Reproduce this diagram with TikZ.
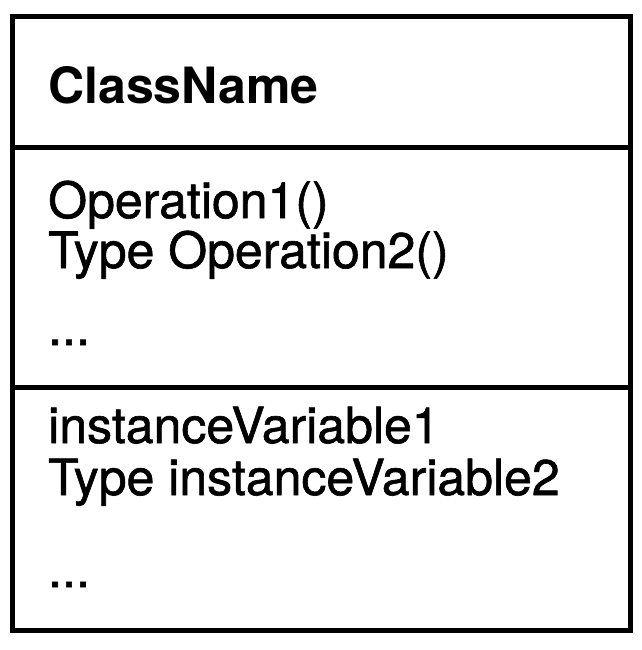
\documentclass[tikz,border=0pt]{standalone}
\usepackage{fontspec}
\setmainfont{TeX Gyre Heros}
\newfontfamily\scanfont[FakeBold=1.2]{TeX Gyre Heros}
\usepackage{tikz}
\usetikzlibrary{positioning}

\tikzset{
  entry/.style={anchor=base west, inner sep=0pt, font=\fontsize{50}{60}\selectfont\scanfont},
  frame/.style={line width=5pt}
}

\begin{document}
\begin{tikzpicture}[x=1pt,y=-1pt]
 \useasboundingbox (0,0) rectangle (641,650);

 % class box and its compartments
 \draw[frame] (12,17) rectangle (630,630);
 \foreach \y in {147,387}{
   \draw[frame] (12,\y) -- (630,\y);
 }

 % name
 \node[entry, font=\fontsize{50}{60}\selectfont\bfseries] (classname) at (48,103) {ClassName};

 % operations
 \node[entry] (op1) at (48,218) {Operation1()};
 \node[entry] (op2) at (48,268) {Type Operation2()};
 \node[entry] (opdots) at (48,345) {.{}.{}.};

 % instance variables
 \node[entry] (var1) at (48,443) {instanceVariable1};
 \node[entry] (var2) at (48,495) {Type instanceVariable2};
 \node[entry] (vardots) at (48,587) {.{}.{}.};

\end{tikzpicture}
\end{document}
